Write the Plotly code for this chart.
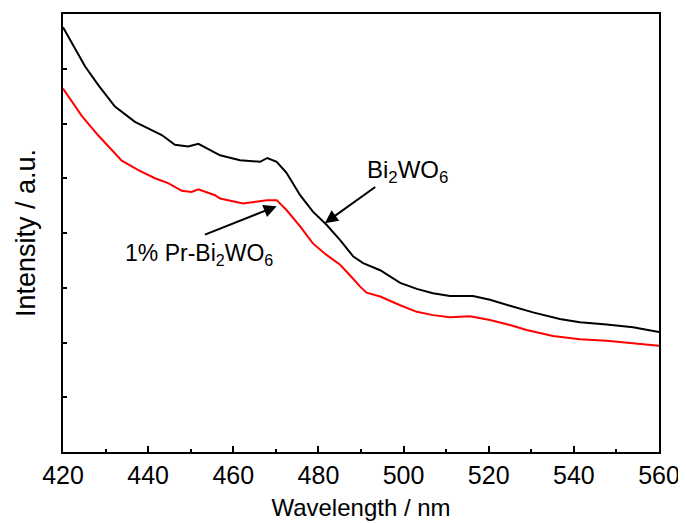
import plotly.graph_objects as go

# Bi2WO6 (black)
wl_black = [420, 425.2, 428.3, 432.2, 436.9, 440.8, 443.2, 446.3, 449.4, 451.8, 455.7, 456.9,
            461.6, 466.3, 468.0, 470.2, 472.5, 475.7, 478.7, 481.9, 485.1, 488.2, 490.5, 494.5,
            499.2, 503.1, 506.9, 510.9, 516.3, 520.3, 525.0, 530.4, 536.7, 541.4, 547.7, 553.9, 560]
int_black = [7.76, 7.04, 6.70, 6.31, 6.03, 5.88, 5.79, 5.61, 5.58, 5.63, 5.48, 5.42,
             5.33, 5.30, 5.37, 5.30, 5.10, 4.69, 4.39, 4.15, 3.87, 3.57, 3.45, 3.32,
             3.09, 2.98, 2.90, 2.85, 2.85, 2.78, 2.67, 2.55, 2.43, 2.37, 2.33, 2.28, 2.19]

# 1% Pr-Bi2WO6 (red)
wl_red = [420, 424.4, 428.3, 430.7, 433.8, 437.7, 441.6, 444.7, 447.9, 450.2, 451.8, 455.7,
          456.9, 462.3, 467.9, 470.2, 472.5, 475.7, 478.7, 481.9, 485.1, 488.2, 489.8, 491.3,
          494.5, 499.2, 503.1, 506.9, 510.9, 515.6, 520.3, 525.0, 528.9, 535.1, 541.4, 547.7,
          553.9, 560]
int_red = [6.64, 6.14, 5.78, 5.58, 5.32, 5.15, 5.00, 4.91, 4.77, 4.75, 4.80, 4.69,
           4.63, 4.54, 4.60, 4.60, 4.42, 4.12, 3.81, 3.60, 3.42, 3.16, 3.02, 2.91,
           2.84, 2.68, 2.56, 2.50, 2.46, 2.48, 2.41, 2.32, 2.23, 2.12, 2.06, 2.03,
           1.99, 1.94]

x_ticks = [420, 440, 460, 480, 500, 520, 540, 560]
x_minor = [430, 450, 470, 490, 510, 530, 550]
y_ticks = [1, 2, 3, 4, 5, 6, 7]

FONT = "Liberation Sans, Arial, sans-serif"

fig = go.Figure()
fig.add_trace(go.Scatter(x=wl_black, y=int_black, mode="lines",
                         line=dict(color="black", width=2),
                         showlegend=False))
fig.add_trace(go.Scatter(x=wl_red, y=int_red, mode="lines",
                         line=dict(color="#ff0000", width=2),
                         showlegend=False))

# arrows (head at x,y ; tail at ax,ay)
fig.add_annotation(x=481.5, y=4.18, ax=493.7, ay=4.86, xref="x", yref="y", axref="x", ayref="y",
                   text="", showarrow=True, arrowhead=2, arrowsize=1.3, arrowwidth=2,
                   arrowcolor="black")
fig.add_annotation(x=470.2, y=4.49, ax=453.0, ay=3.96, xref="x", yref="y", axref="x", ayref="y",
                   text="", showarrow=True, arrowhead=2, arrowsize=1.3, arrowwidth=2,
                   arrowcolor="black")

fig.add_annotation(x=491.0, y=5.13, xref="x", yref="y", xanchor="left",
                   yanchor="middle", text="Bi<sub>2</sub>WO<sub>6</sub>", showarrow=False,
                   font=dict(family=FONT, size=24, color="black"))
fig.add_annotation(x=434.1, y=3.61, xref="x", yref="y", xanchor="left",
                   yanchor="middle", text="1% Pr-Bi<sub>2</sub>WO<sub>6</sub>", showarrow=False,
                   font=dict(family=FONT, size=23, color="black"))

fig.update_layout(
    width=686, height=523,
    margin=dict(l=55, r=35, t=6, b=79, autoexpand=False),
    plot_bgcolor="white", paper_bgcolor="white",
    font=dict(family=FONT, size=24, color="black"),
)
fig.update_xaxes(
    range=[420, 560], tickvals=x_ticks, ticks="inside", ticklen=6, tickwidth=2,
    tickcolor="black", showline=True, linecolor="black", linewidth=2, mirror=True,
    showgrid=False, zeroline=False, automargin=False,
    minor=dict(tickvals=x_minor, ticks="inside", ticklen=3, tickwidth=2, tickcolor="black"),
    tickfont=dict(size=25), title=dict(text="Wavelength / nm", font=dict(size=24), standoff=11),
)
fig.update_yaxes(
    range=[0, 8], tickvals=y_ticks, ticks="inside", ticklen=4, tickwidth=2,
    tickcolor="black", showticklabels=False, showline=True, linecolor="black", linewidth=2,
    mirror=True, showgrid=False, zeroline=False, automargin=False,
    title=dict(text="Intensity / a.u.", font=dict(size=27), standoff=18),
)

fig.write_html("out.html")
